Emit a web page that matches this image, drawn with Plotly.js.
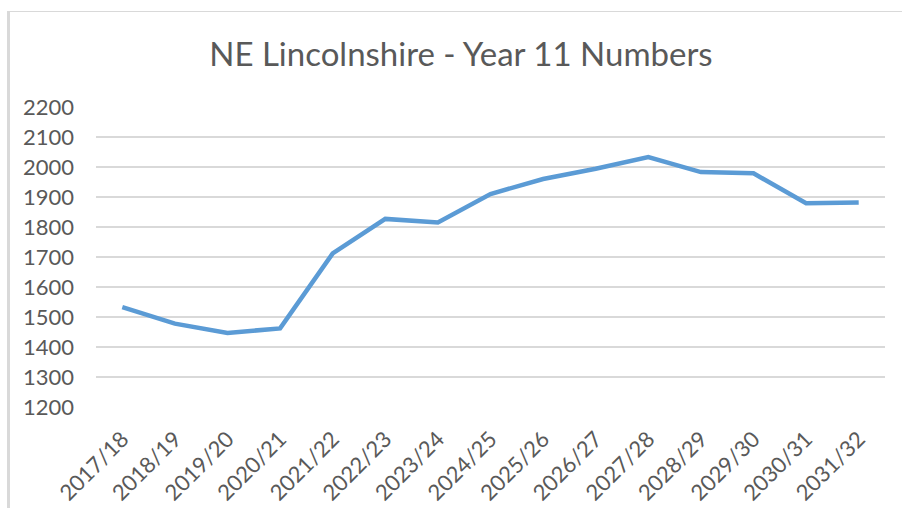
<!DOCTYPE html>
<html>
<head>
<meta charset="utf-8">
<script src="https://cdn.plot.ly/plotly-3.0.1.min.js"></script>
<style>
html,body{margin:0;padding:0;background:#fff;}
#wrap{position:relative;width:902px;height:508px;}
#chart{position:absolute;left:0;top:0;width:902px;height:508px;}
#frame{position:absolute;left:7px;top:11px;width:895px;height:497px;border-top:1px solid #d9d9d9;border-left:3px solid #d9d9d9;box-sizing:border-box;pointer-events:none;}
</style>
</head>
<body>
<div id="wrap"><div id="chart"></div><div id="frame"></div></div>
<script>
const years = ["2017/18","2018/19","2019/20","2020/21","2021/22","2022/23","2023/24","2024/25","2025/26","2026/27","2027/28","2028/29","2029/30","2030/31","2031/32"];
const year11 = [1533,1478,1447,1462,1712,1827,1815,1910,1960,1994,2033,1983,1979,1879,1882];
const yTicks = [1200,1300,1400,1500,1600,1700,1800,1900,2000,2100,2200];

const font = "Lato, 'Open Sans', sans-serif";
Plotly.newPlot('chart', [{
  x: years, y: year11, type: 'scatter', mode: 'lines',
  line: {color: '#5b9bd5', width: 4.5, shape: 'linear'},
  hoverinfo: 'x+y'
}], {
  width: 902, height: 508,
  margin: {l: 96, r: 17, t: 107, b: 101},
  paper_bgcolor: '#ffffff', plot_bgcolor: '#ffffff',
  showlegend: false,
  title: {text: 'NE Lincolnshire - Year 11 Numbers', x: 0.511, xanchor: 'center', y: 0.892, yanchor: 'middle',
          font: {family: font, size: 33, color: '#595959'}},
  xaxis: {type: 'category', range: [-0.5, 14.5], showgrid: false, zeroline: false,
          showline: false, ticks: '', tickangle: -45, ticklabelstandoff: 14,
          tickfont: {family: font, size: 22, color: '#595959'}},
  yaxis: {range: [1200, 2200], tickvals: yTicks, showgrid: true, gridcolor: '#d9d9d9', gridwidth: 1.5,
          zeroline: false, showline: false, ticks: '', ticklabelstandoff: 21,
          tickfont: {family: font, size: 22, color: '#595959'}}
}, {displayModeBar: false, staticPlot: true});
</script>
</body>
</html>
